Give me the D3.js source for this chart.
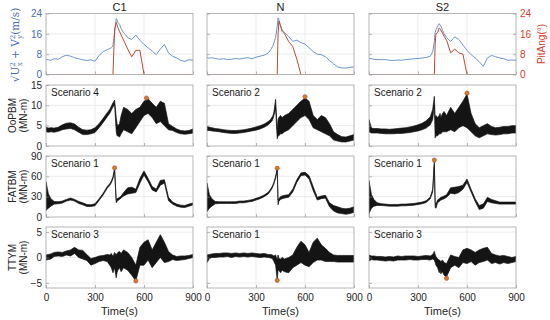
<!DOCTYPE html>
<html lang="en">
<head>
<meta charset="UTF-8">
<title>Wind, pitch angle and blade loads</title>
<script src="https://cdn.jsdelivr.net/npm/d3@7"></script>
<style>
    body { margin: 0; background: #fff; }
    text { font-family: Arial, "Liberation Sans", sans-serif; }
</style>
</head>
<body>
<script type="application/javascript">

    // sample times (s), shared by every series
    let times = [0,15,30,50,75,100,125,150,175,200,225,250,275,300,325,350,375,390,400,405,410,420,430,435,440,450,460,475,500,525,550,575,600,625,650,675,700,725,750,775,800,825,850,875,900];

    let columns = ['C1', 'N', 'S2'];

    // row 1: wind speed (m/s) and pitch angle (deg)
    let windC1 = [5.9,5.8,5.6,6.2,6.0,7.0,7.6,7.2,6.6,6.2,5.8,5.5,5.8,5.2,7.5,9.0,9.8,10.2,10.5,10.8,11.5,16,22,21.5,20.5,19.8,18,16.5,14.5,13.8,15.5,13.5,11.8,10.5,9.2,7.8,10,11.8,8.5,7.2,6.5,5.5,5.2,5.8,5.6];
    let windN = [6.7,6.4,6.6,6.3,6.0,6.2,5.9,6.0,6.3,6.1,6.4,6.6,6.2,6.8,7.2,7.6,8.5,9.8,10.9,11.5,12.5,14.5,19,22.3,21.5,19.5,17.5,16.5,15,13,13.5,12.5,12,10.5,9,8,7.8,7,5.5,4.2,3,2.6,2.5,2.8,3.0];
    let windS2 = [6.3,6.2,6.0,5.9,5.8,5.9,5.6,5.5,5.7,5.6,5.9,6.0,6.2,6.3,6.5,6.7,7.2,8.9,13,16.5,17.6,19,20,19.5,19,17.5,16,14.5,13,14.8,13.8,11.6,9.5,7.8,6.5,5,3.2,6.5,7.5,7,6.5,6.2,5.6,5.7,5.6];
    let pitchC1 = [0,0,0,0,0,0,0,0,0,0,0,0,0,0,0,0,0,0,0,0,0,18,20.5,19.5,18.5,17,15.5,13.5,10,7,9.5,9.5,0,0,0,0,0,0,0,0,0,0,0,0,0];
    let pitchN = [0,0,0,0,0,0,0,0,0,0,0,0,0,0,0,0,0,0,0,0,0,0,0,16,21,19,17,16,13,11,6,0,0,0,0,0,0,0,0,0,0,0,0,0,0];
    let pitchS2 = [0,0,0,0,0,0,0,0,0,0,0,0,0,0,0,0,0,0,0,12,16,16.5,18.3,18,17.5,16.3,15,13.5,8.5,10,8.5,8,0,0,0,0,0,0,0,0,0,0,0,0,0];

    // rows 2-4: oscillating loads as [low, high] envelopes (MN-m)
    let oopbmC1 = [[3.5,4.6],[3.4,4.4],[3.5,4.5],[3.4,4.4],[3.6,4.6],[4.0,5.2],[4.2,5.6],[4.3,5.7],[4.0,5.4],[3.4,4.6],[2.8,4.0],[2.8,3.9],[3.0,4.0],[3.3,4.5],[4.5,5.5],[5.8,6.8],[7.2,8.2],[8.0,9.0],[8.8,9.8],[9.2,10.2],[9.6,10.6],[10.2,11.3],[3.5,7],[2.5,5.5],[2.5,5.0],[2.2,5.5],[3,7.5],[4,9.5],[3.5,9.0],[3.0,8.0],[4.5,9.0],[6,9.5],[7.5,11],[8,11.6],[7,10.5],[5.5,9.5],[6,11],[5,10.5],[4,5.5],[3.8,4.8],[3.3,4.2],[3.0,3.8],[2.9,3.7],[3.0,3.8],[3.2,4.2]];
    let oopbmN = [[3.8,4.8],[3.8,4.6],[3.7,4.5],[3.6,4.3],[3.5,4.2],[3.3,4.0],[3.2,3.9],[3.1,3.8],[3.1,3.8],[3.2,3.9],[3.3,4.0],[3.5,4.2],[3.7,4.4],[3.9,4.7],[4.2,5.0],[4.6,5.4],[5.2,6.0],[5.8,6.6],[6.3,7.2],[6.8,7.6],[7.5,8.5],[9.2,11.5],[1.8,4.0],[2.5,6.5],[2.5,7.0],[3.0,7.5],[3.0,7.0],[3.5,7.5],[4.0,8.0],[5.0,9.0],[6.0,10.0],[7.0,11.0],[7.5,11.8],[6.5,11.0],[4.5,7.5],[4.0,6.5],[3.5,7.5],[3.0,7.0],[2.5,5.5],[1.5,3.5],[1.2,2.8],[1.0,2.3],[1.0,2.2],[1.2,2.5],[1.5,2.8]];
    let oopbmS2 = [[3.5,6.5],[3.2,4.4],[3.2,4.3],[3.2,4.3],[3.1,4.2],[3.0,4.2],[3.0,4.1],[3.0,4.2],[3.1,4.3],[3.1,4.4],[3.2,4.5],[3.3,4.7],[3.5,4.9],[3.7,5.2],[4.0,5.6],[4.4,6.2],[5.2,7.2],[6.5,9.0],[10.0,12.2],[2.0,7.0],[2.5,7.5],[2.5,7.0],[3.0,7.5],[3.0,8.0],[3.0,7.0],[3.5,8.0],[3.5,8.5],[3.5,7.5],[4.0,9.5],[3.5,8.0],[4.5,9.5],[5.0,11.0],[4.5,12.8],[3.5,8.0],[2.5,5.5],[2.0,4.5],[2.5,5.0],[3.0,5.5],[2.8,4.8],[2.7,4.5],[2.8,4.6],[3.0,4.8],[3.0,4.8],[3.2,5.0],[3.2,5.0]];

    let fatbmC1 = [[10,52],[13,34],[16,27],[19,23],[19.5,22.5],[20.5,23.5],[23.5,26],[25,28],[23.5,26],[20,23],[18,21],[15.5,18.5],[15.5,18],[16.5,19.5],[24.5,27],[32.5,35],[42.5,45],[46.5,49],[50.5,53],[53.5,56],[56.5,59.5],[68,72],[21,25],[23,27],[24.5,27.5],[26,29],[28,31],[31,36],[34,43],[35,44],[36,41],[50,57],[62,68],[52,57],[40,45],[37,41],[47,54],[50,55],[24,29],[19,22],[16,19],[14.5,17.5],[14,17],[16,19],[18,20.5]];
    let fatbmN = [[8,50],[13,33],[16,27],[19.5,23],[20,22.5],[20,22.5],[20,22.5],[20,22.5],[20,22.5],[21,23.5],[21,23.5],[22,24.5],[23,25.5],[25,27.5],[27,29.5],[30,32.5],[34,36.5],[39,41.5],[43,45.5],[46,48.5],[49,51.5],[57,60],[69,72],[18,25],[23,27],[26,30],[27,31],[28,32],[29,33],[37,41],[51,55],[61,65],[62,66],[56,61],[39,45],[25,29],[27,31],[28,32],[15,21],[9,17],[6,15],[5,13],[4,12],[5,13],[7,15]];
    let fatbmS2 = [[5,54],[13,33],[16,26],[17,21],[17,19.5],[16.5,19],[16,18.5],[16,18.5],[16,18.5],[16.5,19],[16.5,19],[17,19.5],[17.5,20],[18.5,21],[19.5,22],[21.5,24],[27,29.5],[37,41],[76,84],[14,22],[13,19],[21,25],[23,27],[24,28],[25,29],[26,30],[27,31],[29,33],[35,43],[34,44],[36,45],[41,47],[51,56],[37,41],[23,27],[11,17],[13,19],[23,29],[21,26],[20,24],[19,22],[19,22],[19,22],[19,22],[19,22]];

    let ttymC1 = [[-0.5,0.5],[-0.4,0.6],[-0.3,0.7],[0.2,1.0],[0.3,1.1],[0.2,1.0],[0.5,1.3],[0.3,1.5],[0.8,2.0],[0.0,1.5],[-0.3,1.4],[-0.6,0.6],[-1.5,-0.2],[-1.2,0.0],[-0.8,0.3],[-0.6,0.4],[-0.8,0.6],[-1.5,0.5],[-2.0,0.8],[-2.5,0.5],[-3.0,0.2],[-2.0,1.0],[-4.0,0.5],[-3.0,0.8],[-2.5,1.0],[-2.0,1.2],[-2.8,0.8],[-2.0,1.5],[-2.5,1.0],[-3.5,0.0],[-4.6,-1.5],[-1.5,2.0],[-1.5,3.0],[-0.5,3.5],[-2.0,1.5],[-1.0,3.0],[0.0,4.5],[-1.0,3.0],[-0.8,1.2],[-0.4,0.5],[-0.6,0.2],[-0.5,0.3],[-0.4,0.3],[-0.2,0.4],[0.0,0.6]];
    let ttymN = [[-1.0,0.5],[-0.2,0.6],[0.0,0.7],[0.0,0.8],[0.1,0.8],[0.1,0.9],[0.2,0.9],[0.0,0.8],[0.2,0.9],[0.1,0.8],[0.2,0.9],[0.1,0.8],[0.2,0.9],[0.1,0.8],[0.0,0.7],[0.1,0.8],[0.0,0.6],[-0.1,0.6],[-0.2,0.5],[-0.5,0.4],[-0.8,0.3],[-1.5,0.5],[-4.5,-0.5],[-2.5,0.5],[-2.5,-0.2],[-3.0,-0.3],[-2.5,0.0],[-2.8,-0.3],[-3.0,0.0],[-2.0,0.5],[-1.5,2.0],[-1.0,3.2],[-1.5,2.5],[-1.8,1.0],[-1.0,3.0],[-0.5,3.8],[-0.5,2.5],[-0.8,1.8],[-0.8,1.0],[-0.8,0.5],[-0.9,0.4],[-0.9,0.4],[-0.9,0.4],[-0.9,0.4],[-0.9,0.4]];
    let ttymS2 = [[-0.7,0.5],[-0.4,0.3],[-0.5,0.3],[-0.5,0.2],[-0.6,0.2],[-0.7,0.1],[-0.6,0.2],[-0.7,0.1],[-0.5,0.3],[-0.5,0.2],[-0.5,0.3],[-0.4,0.3],[-0.5,0.3],[-0.5,0.2],[-0.4,0.3],[-0.4,0.4],[-0.5,0.3],[-0.3,0.6],[-0.5,1.2],[-1.0,0.6],[-1.5,0.2],[-2.0,-0.3],[-3.0,-0.5],[-2.5,-0.6],[-3.2,-0.8],[-2.8,-0.5],[-3.5,-1.0],[-3.8,-1.2],[-2.0,0.5],[-1.5,0.2],[-2.0,0.0],[-1.0,1.5],[-1.2,1.8],[-0.8,1.5],[-1.5,1.0],[-1.0,1.5],[-0.8,1.8],[-0.5,2.0],[-1.2,0.8],[-1.0,0.5],[-1.3,0.3],[-1.0,0.4],[-1.2,0.2],[-1.0,0.0],[-0.8,0.2]];

    // maximum-load markers [time, value] for each row, C1 / N / S2
    let peaksOopbm = [[615, 11.8], [600, 12.1], [600, 13.0]];
    let peaksFatbm = [[420, 72.5], [430, 72], [400, 84]];
    let peaksTtym = [[550, -4.6], [430, -4.5], [475, -4.1]];

    let scenarios = [
        ['Scenario 4', 'Scenario 2', 'Scenario 2'],
        ['Scenario 1', 'Scenario 1', 'Scenario 1'],
        ['Scenario 3', 'Scenario 1', 'Scenario 3']
    ];
    let loadNames = ['OoPBM', 'FATBM', 'TTYM'];

    let xTicks = [0, 300, 600, 900];
    let yDomains = [[0, 24], [0, 15], [0, 90], [-6, 6]];
    let yTicks = [[0, 8, 16, 24], [0, 5, 10, 15], [0, 30, 60, 90], [-5, 0, 5]];

    let wind = [windC1, windN, windS2];
    let pitch = [pitchC1, pitchN, pitchS2];
    let bands = [
        [oopbmC1, oopbmN, oopbmS2],
        [fatbmC1, fatbmN, fatbmS2],
        [ttymC1, ttymN, ttymS2]
    ];
    let peaks = [peaksOopbm, peaksFatbm, peaksTtym];

    // layout
    let w = 550, h = 320;
    let colLeft = [46, 207, 369], plotW = 147;
    let rowTop = [13.5, 85, 156, 227], plotH = 61;
    let blue = '#4a6cb8', windColor = '#6b95d2', red = '#dd3b2c', pitchColor = '#bf4a2c';

    let svg = d3.select('body')
        .append('svg')
        .attr('width', w)
        .attr('height', h);

    let x = d3.scaleLinear().domain([0, 900]).range([0, plotW]);

    function styleAxis(sel, color) {
        sel.select('.domain').remove();
        sel.selectAll('.tick line').attr('stroke', '#8c8c8c').attr('stroke-width', 0.6);
        sel.selectAll('.tick text').attr('fill', color).style('font-size', '10px')
            .style('font-family', 'Arial, "Liberation Sans", sans-serif');
    }

    for (let r = 0; r < 4; r++) {
        let y = d3.scaleLinear().domain(yDomains[r]).range([plotH, 0]);

        for (let c = 0; c < 3; c++) {
            let g = svg.append('g')
                .attr('transform', 'translate(' + colLeft[c] + ',' + rowTop[r] + ')');

            let clipId = 'clip-' + r + '-' + c;
            g.append('clipPath').attr('id', clipId)
                .append('rect').attr('width', plotW).attr('height', plotH);

            g.append('rect').attr('width', plotW).attr('height', plotH).attr('fill', '#fff');

            // grid
            g.selectAll('line.gx')
                .data([300, 600])
                .enter().append('line')
                .attr('x1', d => x(d)).attr('x2', d => x(d))
                .attr('y1', 0).attr('y2', plotH)
                .attr('stroke', '#e4e4e4').attr('stroke-width', 0.7);
            g.selectAll('line.gy')
                .data(yTicks[r].filter(v => v > yDomains[r][0] && v < yDomains[r][1]))
                .enter().append('line')
                .attr('x1', 0).attr('x2', plotW)
                .attr('y1', d => y(d)).attr('y2', d => y(d))
                .attr('stroke', '#e4e4e4').attr('stroke-width', 0.7);

            let plot = g.append('g').attr('clip-path', 'url(#' + clipId + ')');

            if (r === 0) {
                let line = d3.line().x((d, i) => x(times[i])).y(d => y(d));
                plot.append('path')
                    .attr('d', line(wind[c]))
                    .attr('fill', 'none').attr('stroke', windColor).attr('stroke-width', 1);
                plot.append('path')
                    .attr('d', line(pitch[c]))
                    .attr('fill', 'none').attr('stroke', pitchColor).attr('stroke-width', 1);
            } else {
                let area = d3.area()
                    .x((d, i) => x(times[i]))
                    .y0(d => y(d[0]))
                    .y1(d => y(d[1]));
                plot.append('path')
                    .attr('d', area(bands[r - 1][c]))
                    .attr('fill', '#141414')
                    .attr('stroke', '#141414').attr('stroke-width', 0.7)
                    .attr('stroke-linejoin', 'round');

                let p = peaks[r - 1][c];
                g.append('circle')
                    .attr('cx', x(p[0])).attr('cy', y(p[1])).attr('r', 2.1)
                    .attr('fill', '#cf7f2a').attr('stroke', '#b5402a').attr('stroke-width', 0.6);

                g.append('text')
                    .attr('x', 5).attr('y', 11)
                    .style('font-size', '10px').attr('fill', '#1a1a1a')
                    .text(scenarios[r - 1][c]);
            }

            // axes with inward ticks
            let yAxis = d3.axisLeft(y).tickValues(yTicks[r]).tickSize(-3).tickPadding(4);
            if (c > 0) yAxis.tickFormat('');
            g.append('g').call(yAxis).call(s => styleAxis(s, r === 0 ? blue : '#262626'));

            let xAxis = d3.axisBottom(x).tickValues(xTicks).tickSize(-3).tickPadding(6);
            if (r < 3) xAxis.tickFormat('');
            g.append('g').attr('transform', 'translate(0,' + plotH + ')')
                .call(xAxis).call(s => styleAxis(s, '#262626'));

            if (r === 0 && c === 2) {
                let yRight = d3.axisRight(y).tickValues(yTicks[0]).tickSize(-3).tickPadding(4);
                g.append('g').attr('transform', 'translate(' + plotW + ',0)')
                    .call(yRight).call(s => styleAxis(s, red));
            }

            g.append('rect')
                .attr('width', plotW).attr('height', plotH)
                .attr('fill', 'none').attr('stroke', '#a3a3a3').attr('stroke-width', 0.8);
        }
    }

    // column titles and x labels
    columns.forEach((name, c) => {
        svg.append('text')
            .attr('x', colLeft[c] + plotW / 2).attr('y', 11)
            .attr('text-anchor', 'middle')
            .style('font-size', '11px').attr('fill', '#1a1a1a')
            .text(name);
        svg.append('text')
            .attr('x', colLeft[c] + plotW / 2).attr('y', 315)
            .attr('text-anchor', 'middle')
            .style('font-size', '11px').attr('fill', '#262626')
            .text('Time(s)');
    });

    // load labels, two lines each
    loadNames.forEach((name, i) => {
        let cy = rowTop[i + 1] + plotH / 2;
        svg.append('text')
            .attr('transform', 'translate(15.5,' + cy + ') rotate(-90)')
            .attr('text-anchor', 'middle')
            .style('font-size', '10px').attr('fill', '#262626')
            .text(name);
        svg.append('text')
            .attr('transform', 'translate(27,' + cy + ') rotate(-90)')
            .attr('text-anchor', 'middle')
            .style('font-size', '10px').attr('fill', '#262626')
            .text('(MN-m)');
    });

    // wind speed label
    let windLabel = svg.append('text')
        .attr('transform', 'translate(19,' + (rowTop[0] + plotH / 2 + 1) + ') rotate(-90)')
        .attr('text-anchor', 'middle')
        .attr('fill', blue)
        .style('font-family', '"DejaVu Serif", "Liberation Serif", serif')
        .style('font-size', '10.5px');
    windLabel.append('tspan').text('√');
    windLabel.append('tspan').text('U');
    windLabel.append('tspan').attr('dy', -4).style('font-size', '7px').text('2');
    windLabel.append('tspan').attr('dx', -4).attr('dy', 7).style('font-size', '7px').text('x');
    windLabel.append('tspan').attr('dy', -3).text(' + V');
    windLabel.append('tspan').attr('dy', -4).style('font-size', '7px').text('2');
    windLabel.append('tspan').attr('dx', -4).attr('dy', 7).style('font-size', '7px').text('y');
    windLabel.append('tspan').attr('dy', -3).text('(m/s)');

    svg.append('text')
        .attr('transform', 'translate(545,' + (rowTop[0] + plotH / 2) + ') rotate(-90)')
        .attr('text-anchor', 'middle')
        .attr('fill', red)
        .style('font-size', '10px')
        .text('PitAng(°)');

</script>
</body>
</html>
